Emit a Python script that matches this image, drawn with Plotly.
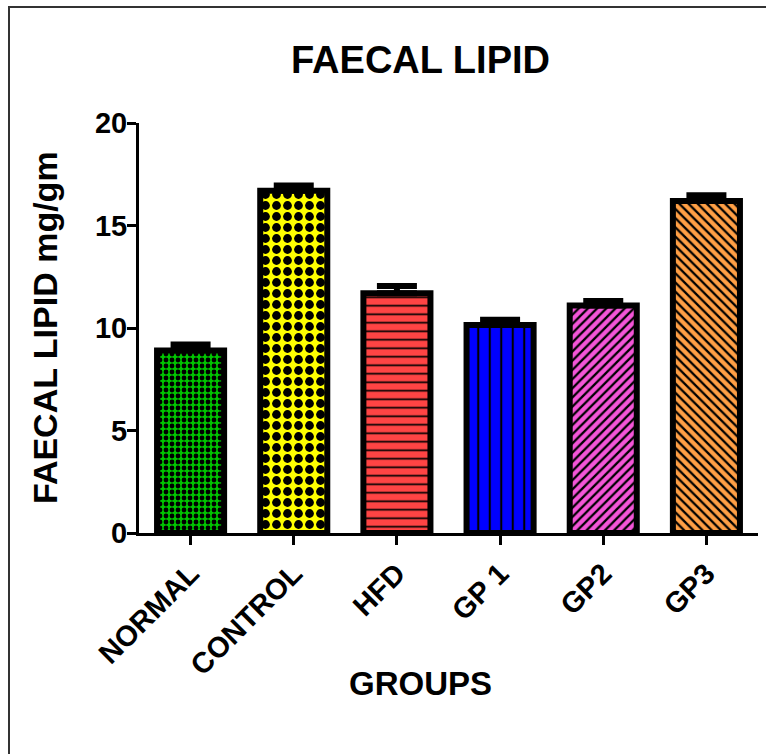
import plotly.graph_objects as go

groups = ["NORMAL", "CONTROL", "HFD", "GP 1", "GP2", "GP3"]
means = [8.9, 16.7, 11.7, 10.15, 11.1, 16.2]
sem = [0.3, 0.25, 0.35, 0.25, 0.22, 0.28]
y_ticks = [0, 5, 10, 15, 20]

fill_colors = ["#00C400", "#FFFF00", "#FF4444", "#0000FF", "#F455D8", "#FF9F45"]
pattern_shapes = [".", ".", "-", "|", "/", "\\"]
pattern_sizes = [6, 11, 8.5, 11.5, 6.5, 6.5]
pattern_solidity = [0.5, 0.5, 0.2, 0.18, 0.35, 0.35]

FONT = "Liberation Sans, Arial, sans-serif"

fig = go.Figure()
for i, g in enumerate(groups):
    fig.add_trace(go.Bar(
        x=[g],
        y=[means[i]],
        width=0.65,
        marker=dict(
            color=fill_colors[i],
            line=dict(color="black", width=6),
            pattern=dict(
                shape=pattern_shapes[i],
                fgcolor="#000000",
                bgcolor=fill_colors[i],
                fgopacity=1,
                size=pattern_sizes[i],
                solidity=pattern_solidity[i],
                fillmode="overlay",
            ),
        ),
        error_y=dict(
            type="data",
            array=[sem[i]],
            arrayminus=[0],
            symmetric=False,
            color="black",
            thickness=6,
            width=20,
        ),
        showlegend=False,
    ))

W, H = 766, 754
L, R, T, B = 139, 8, 123, 221
pw, ph = W - L - R, H - T - B


def px_x(p):
    return (p - L) / pw


def px_y(p):
    return (H - B - p) / ph


fig.update_layout(
    width=W, height=H,
    margin=dict(l=L, r=R, t=T, b=B, pad=0),
    paper_bgcolor="white",
    plot_bgcolor="white",
    barmode="overlay",
    font=dict(family=FONT, color="black"),
    xaxis=dict(
        range=[-0.5, 5.5],
        categoryorder="array", categoryarray=groups,
        tickmode="array", tickvals=groups,
        ticktext=["<b>%s</b>" % g for g in groups],
        showline=True, linecolor="black", linewidth=3,
        ticks="outside", ticklen=9, tickwidth=3, tickcolor="black",
        tickangle=-45,
        tickfont=dict(family=FONT, size=29, color="black"),
        showgrid=False, zeroline=False,
    ),
    yaxis=dict(
        range=[0, 20],
        tickmode="array", tickvals=y_ticks,
        ticktext=["<b>%d</b>" % v for v in y_ticks],
        showline=True, linecolor="black", linewidth=3,
        ticks="outside", ticklen=9, tickwidth=3, tickcolor="black",
        ticklabelstandoff=-6,
        tickfont=dict(family=FONT, size=29, color="black"),
        showgrid=False, zeroline=False,
    ),
    annotations=[
        dict(text="<b>FAECAL LIPID</b>", xref="paper", yref="paper",
             x=px_x(420), y=px_y(60), xanchor="center", yanchor="middle",
             showarrow=False, font=dict(family=FONT, size=38, color="black")),
        dict(text="<b>FAECAL LIPID mg/gm</b>", xref="paper", yref="paper",
             x=px_x(45), y=px_y(328), xanchor="center", yanchor="middle",
             textangle=-90, showarrow=False,
             font=dict(family=FONT, size=34, color="black")),
        dict(text="<b>GROUPS</b>", xref="paper", yref="paper",
             x=px_x(420), y=px_y(683), xanchor="center", yanchor="middle",
             showarrow=False, font=dict(family=FONT, size=33, color="black")),
    ],
    shapes=[
        dict(type="rect", xref="paper", yref="paper",
             x0=px_x(9), x1=px_x(800), y0=px_y(7), y1=px_y(800),
             line=dict(color="#333333", width=2), layer="below"),
    ],
)

fig.write_html("out.html")
